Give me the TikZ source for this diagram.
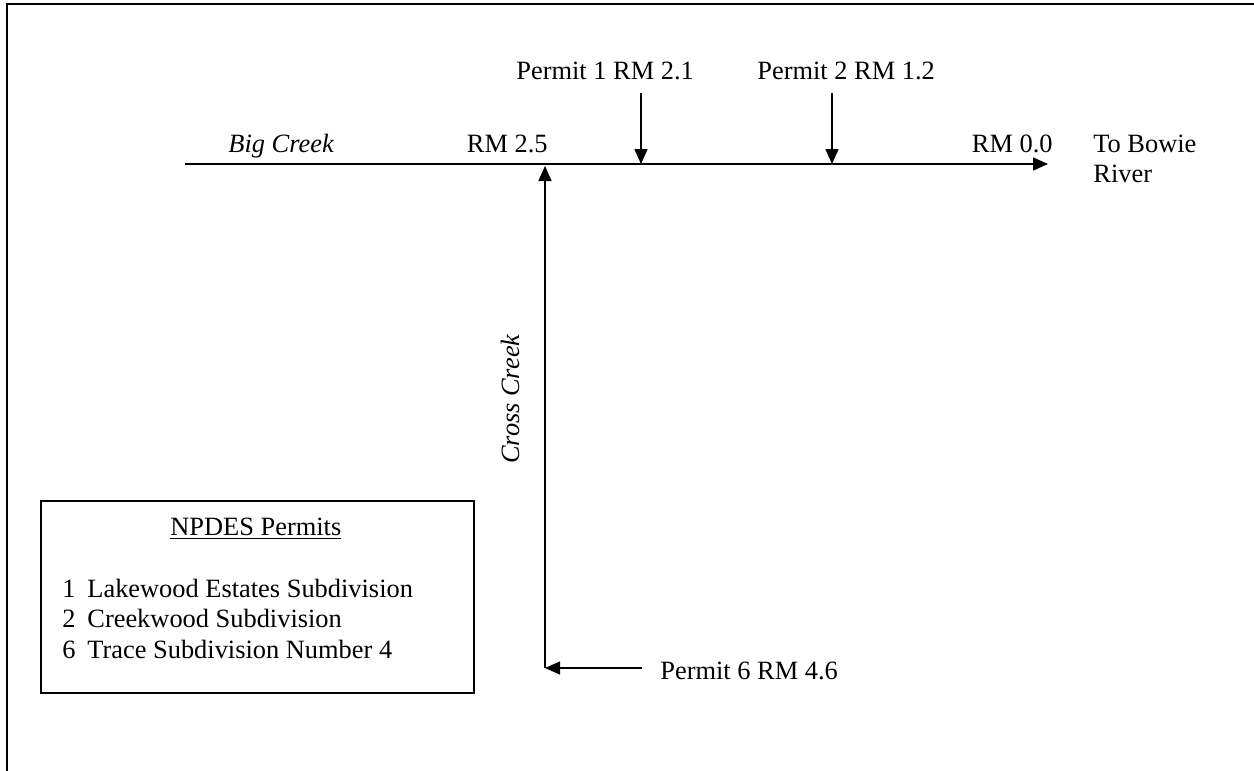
\documentclass[tikz,border=0pt]{standalone}
\usepackage{fontspec}
\setmainfont{Liberation Serif}
\usetikzlibrary{arrows.meta}
\begin{document}
\begin{tikzpicture}[x=0.5pt,y=-0.5pt,
  lbl/.style={inner sep=0pt, font=\fontsize{13.2}{15.2}\selectfont},
  flow/.style={line width=0.8pt, -{Triangle[length=7.5pt,width=6.5pt]}},
  frameline/.style={line width=1pt},
  legendbox/.style={draw, line width=0.9pt, inner sep=0pt, minimum width=216.5pt, minimum height=96pt, anchor=north west}
]
\useasboundingbox (0,0) rectangle (1254,771);
% frame
\coordinate (fbl) at (7,771);
\coordinate (ftl) at (7,4);
\coordinate (ftr) at (1254,4);
\draw[frameline] (fbl) -- (ftl) -- (ftr);

% Big Creek main stem
\coordinate (bcs) at (185,164);
\coordinate (bce) at (1048,164);
\draw[flow] (bcs) -- (bce);

% Permit inflows
\coordinate (p1t) at (641,93);
\coordinate (p1b) at (641,164);
\draw[flow] (p1t) -- (p1b);
\coordinate (p2t) at (832,93);
\coordinate (p2b) at (832,164);
\draw[flow] (p2t) -- (p2b);

% Cross Creek
\coordinate (ccb) at (545,668);
\coordinate (cct) at (545,166);
\draw[flow] (ccb) -- (cct);
\coordinate (p6s) at (642,668);
\draw[flow] (p6s) -- (ccb);

% labels
\node[lbl, anchor=base west] (bigcreek) at (228,152) {\textit{Big Creek}};
\node[lbl, anchor=base east] (rm25) at (548,152) {RM 2.5};
\node[lbl, anchor=base west] (permit1) at (516,79) {Permit 1 RM 2.1};
\node[lbl, anchor=base west] (permit2) at (757,79) {Permit 2 RM 1.2};
\node[lbl, anchor=base east] (rm00) at (1053,152) {RM 0.0};
\node[lbl, anchor=base west] (bowie1) at (1093,152) {To Bowie};
\node[lbl, anchor=base west] (bowie2) at (1093,182) {River};
\node[lbl, rotate=90, anchor=base] (crosscreek) at (519,399) {\textit{Cross Creek}};
\node[lbl, anchor=base west] (permit6) at (660,679) {Permit 6 RM 4.6};

% legend
\node[legendbox] (legend) at (40,500) {};
\node[lbl, anchor=base west] (legtitle) at (170,535) {\underline{NPDES Permits}};
\node[lbl, anchor=base west] (n1) at (62,597) {1};
\node[lbl, anchor=base west] (t1) at (87,597) {Lakewood Estates Subdivision};
\node[lbl, anchor=base west] (n2) at (62,627) {2};
\node[lbl, anchor=base west] (t2) at (87,627) {Creekwood Subdivision};
\node[lbl, anchor=base west] (n6) at (62,658) {6};
\node[lbl, anchor=base west] (t6) at (87,658) {Trace Subdivision Number 4};
\end{tikzpicture}
\end{document}
